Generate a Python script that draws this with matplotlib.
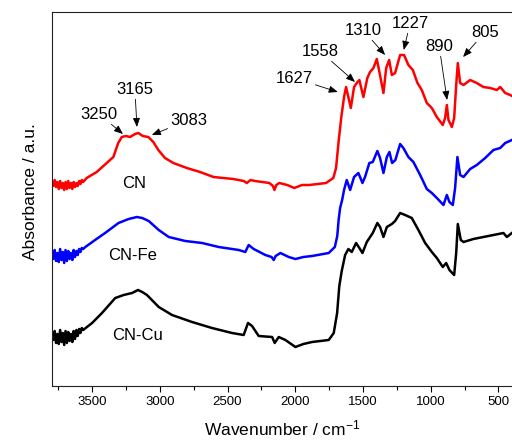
import numpy as np
import matplotlib
matplotlib.use("Agg")
import matplotlib.pyplot as plt
from matplotlib.ticker import MultipleLocator

plt.rcParams['font.family'] = ['Liberation Sans', 'DejaVu Sans']
plt.rcParams['mathtext.default'] = 'regular'

# ---------------------
# spectra (arbitrary units)
# ---------------------
noise_wn = [3796, 3786, 3776, 3766, 3756, 3746, 3736, 3726, 3716, 3706, 3696, 3686,
            3676, 3666, 3656, 3646, 3636, 3626, 3616, 3606, 3596, 3586, 3576, 3566]

cn_wn = noise_wn + [3540, 3466, 3392, 3343, 3307, 3281, 3250, 3220, 3183, 3159, 3126, 3085,
                    3048, 3011, 2962, 2900, 2801, 2703, 2604, 2457, 2380, 2358, 2330, 2297,
                    2191, 2165, 2154, 2140, 2118, 2060, 2007, 1950, 1896, 1773, 1719, 1699,
                    1679, 1660, 1640, 1625, 1590, 1566, 1546, 1527, 1497, 1468, 1448, 1423,
                    1398, 1379, 1349, 1329, 1307, 1287, 1263, 1226, 1197, 1165, 1132, 1098,
                    1066, 1029, 992, 955, 911, 894, 881, 869, 844, 827, 812, 800, 783, 758,
                    709, 660, 611, 561, 512, 487, 450, 414, 400]
cn_abs = [205, 200, 206, 199, 204, 197, 205, 198, 203, 196, 204, 197,
          205, 198, 203, 197, 204, 199, 203, 200, 205, 202, 206, 204,
          208, 214, 223, 229, 243, 249, 250, 249, 252, 253, 250, 249,
          244, 236, 228, 223, 218, 214, 209, 207, 205, 203, 206, 205,
          203, 200, 196, 201, 203, 201, 198, 201, 201, 203, 208, 218,
          246, 269, 289, 299, 278, 299, 303, 306, 289, 308, 314, 318,
          327, 314, 293, 318, 326, 311, 313, 331, 331, 321, 316, 303,
          296, 283, 278, 269, 261, 268, 281, 266, 259, 268, 301, 323, 303, 301,
          306, 303, 299, 298, 296, 299, 293, 291, 290]

fe_wn = noise_wn + [3550, 3478, 3404, 3305, 3230, 3169, 3130, 3082, 3008, 2934, 2812, 2688,
                    2565, 2417, 2369, 2344, 2307, 2221, 2175, 2159, 2145, 2110, 2048, 1999,
                    1940, 1876, 1753, 1708, 1690, 1680, 1669, 1654, 1640, 1620, 1595, 1566,
                    1534, 1504, 1485, 1453, 1428, 1394, 1374, 1349, 1324, 1305, 1285, 1261,
                    1226, 1202, 1165, 1128, 1078, 1029, 992, 955, 906, 881, 862, 837,
                    820, 803, 783, 758, 709, 660, 598, 537, 487, 450, 401]
fe_abs = [134, 127, 136, 125, 133, 124, 137, 126, 134, 123, 136, 125,
          135, 127, 133, 126, 136, 129, 135, 131, 137, 134, 138, 137,
          139, 146, 153, 163, 167, 169, 168, 165, 156, 149, 145, 143,
          139, 136, 134, 141, 137, 131, 129, 126, 130, 133, 129, 127,
          129, 130, 133, 139, 150, 166, 178, 186, 196, 206, 196, 209,
          213, 203, 209, 223, 224, 235, 228, 213, 229, 234, 223, 226,
          242, 238, 229, 224, 211, 197, 193, 188, 181, 191, 184, 181,
          198, 229, 211, 209, 217, 221, 228, 236, 238, 243, 246]

cu_wn = noise_wn + [3500, 3427, 3329, 3267, 3205, 3161, 3130, 3095, 3008, 2910, 2762, 2615,
                    2467, 2381, 2349, 2319, 2270, 2171, 2152, 2122, 2073, 1999, 1940, 1876,
                    1753, 1716, 1691, 1675, 1657, 1632, 1608, 1583, 1551, 1527, 1504, 1472,
                    1428, 1394, 1374, 1349, 1324, 1287, 1263, 1226, 1189, 1140, 1091, 1041,
                    992, 955, 911, 886, 862, 827, 812, 800, 778, 758, 685, 611,
                    537, 463, 438, 401]
cu_abs = [54, 46, 55, 43, 52, 42, 56, 44, 53, 41, 55, 43,
          54, 45, 52, 44, 55, 47, 56, 50, 57, 53, 58, 56,
          63, 73, 88, 91, 93, 96, 94, 91, 79, 71, 64, 58,
          53, 51, 63, 60, 50, 49, 43, 49, 46, 39, 42, 44,
          46, 53, 73, 100, 115, 131, 137, 134, 143, 138, 133, 144,
          153, 163, 159, 149, 159, 162, 165, 173, 171, 168, 156, 143,
          134, 128, 119, 123, 116, 111, 133, 162, 146, 144, 147, 149,
          151, 153, 149, 153]

# peak labels: text, arrow tip (wn, abs), text position (wn, abs)
peak_text = ["3250", "3165", "3083", "1627", "1558", "1310", "1227", "890", "805"]
peak_tip_wn = [3272, 3169, 3059, 1686, 1559, 1337, 1199, 879, 761]
peak_tip_abs = [252, 259, 251, 294, 304, 331, 336, 286, 329]
peak_txt_wn = [3449, 3184, 2785, 2009, 1818, 1499, 1152, 938, 598]
peak_txt_abs = [272, 297, 266, 308, 335, 356, 363, 340, 354]

sample_names = ["CN", "CN-Fe", "CN-Cu"]
name_wn = [3191, 3198, 3161]
name_abs = [203, 131, 51]

# ---------------------
# figure
# ---------------------
fig = plt.figure(figsize=(5.12, 4.45), dpi=100)
ax = fig.add_axes([52/512, 1 - 386/445, 460/512, 374/445])

ax.plot(cn_wn, cn_abs, color="#ff0000", lw=1.8)
ax.plot(fe_wn, fe_abs, color="#0000ff", lw=1.8)
ax.plot(cu_wn, cu_abs, color="black", lw=1.8)

for name, w, a in zip(sample_names, name_wn, name_abs):
    ax.text(w, a, name, fontsize=12, ha="center", va="center")

for t, tw, ta, xw, xa in zip(peak_text, peak_tip_wn, peak_tip_abs, peak_txt_wn, peak_txt_abs):
    ax.annotate(t, xy=(tw, ta), xytext=(xw, xa), fontsize=12, ha="center", va="center",
                arrowprops=dict(arrowstyle="-|>,head_length=0.45,head_width=0.18",
                                color="black", lw=0.6, shrinkA=0, shrinkB=0))

ax.set_xlim(3796, 400)
ax.set_ylim(0, 374)
ax.xaxis.set_major_locator(MultipleLocator(500))
ax.xaxis.set_minor_locator(MultipleLocator(250))
ax.tick_params(axis="x", which="major", direction="out", length=4.5, width=0.8,
               labelsize=9.5, pad=2.5)
ax.tick_params(axis="x", which="minor", direction="out", length=3, width=0.8)
ax.set_yticks([])
ax.spines["right"].set_visible(False)
for s in ["left", "bottom", "top"]:
    ax.spines[s].set_linewidth(0.8)
    ax.spines[s].set_color("#222222")

ax.set_xlabel("Wavenumber / cm$^{-1}$", fontsize=12.5, labelpad=8)
ax.set_ylabel("Absorbance / a.u.", fontsize=12.5)
ax.yaxis.set_label_coords(-0.03, 0.52)

fig.savefig("out.png", dpi=100)
